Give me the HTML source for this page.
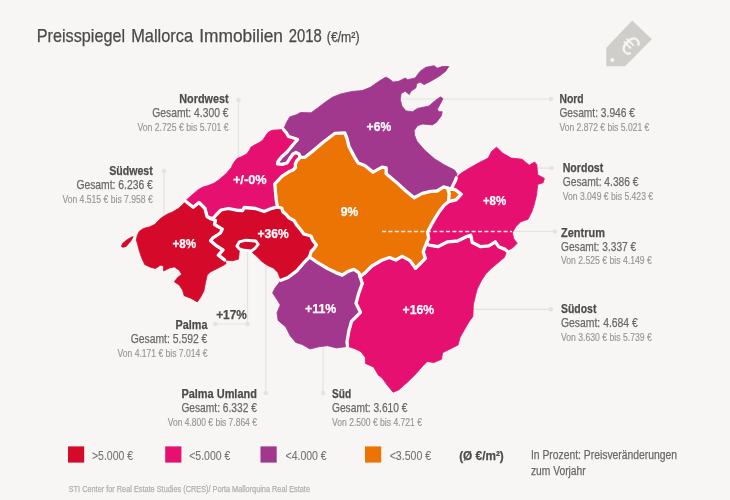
<!DOCTYPE html>
<html lang="de"><head><meta charset="utf-8"><title>Preisspiegel Mallorca Immobilien 2018</title>
<style>html,body{margin:0;padding:0;background:#f7f6f4;}body{width:730px;height:500px;overflow:hidden;}svg{display:block;}</style>
</head><body>
<svg width="730" height="500" viewBox="0 0 730 500">
<rect width="730" height="500" fill="#f7f6f4"/>
<g fill="#d0cecb"><path d="M632.3 20.4 L651.8 39.3 L625.1 66.2 L606.3 66.2 L606.3 47.7 Z"/></g>
<circle cx="612.4" cy="60.1" r="2" fill="#f7f6f4"/>
<text x="0" y="0" transform="translate(630.2,44.8) rotate(45)" text-anchor="middle" font-family="Liberation Sans, Arial, sans-serif" font-size="27" fill="#f7f6f4" dy="9.5">€</text>
<line x1="238.5" y1="100" x2="238.5" y2="160" stroke="#e4e3e1" stroke-width="1.2" />
<circle cx="238.5" cy="100" r="2.3" fill="#e4e3e1"/>
<line x1="164" y1="171" x2="164" y2="218" stroke="#e4e3e1" stroke-width="1.2" />
<circle cx="164" cy="171" r="2.3" fill="#e4e3e1"/>
<line x1="401" y1="99" x2="550.7" y2="99" stroke="#e4e3e1" stroke-width="1.2" />
<circle cx="550.7" cy="99" r="2.3" fill="#e4e3e1"/>
<line x1="538" y1="168.1" x2="551.8" y2="168.1" stroke="#e4e3e1" stroke-width="1.2" />
<circle cx="551.8" cy="168.1" r="2.3" fill="#e4e3e1"/>
<line x1="512" y1="231.5" x2="554.8" y2="231.5" stroke="#e4e3e1" stroke-width="1.2" />
<circle cx="554.8" cy="231.5" r="2.3" fill="#e4e3e1"/>
<line x1="473" y1="309.3" x2="550.7" y2="309.3" stroke="#e4e3e1" stroke-width="1.2" />
<circle cx="550.7" cy="309.3" r="2.3" fill="#e4e3e1"/>
<line x1="323.1" y1="348" x2="323.1" y2="393.1" stroke="#e4e3e1" stroke-width="1.2" />
<circle cx="323.1" cy="393.1" r="2.3" fill="#e4e3e1"/>
<line x1="265.8" y1="262" x2="265.8" y2="393.1" stroke="#e4e3e1" stroke-width="1.2" />
<circle cx="265.8" cy="393.1" r="2.3" fill="#e4e3e1"/>
<line x1="247.5" y1="250" x2="247.5" y2="324" stroke="#e4e3e1" stroke-width="1.2" />
<line x1="215.5" y1="324" x2="247.5" y2="324" stroke="#e4e3e1" stroke-width="1.2" />
<circle cx="215.5" cy="324" r="2.3" fill="#e4e3e1"/>
<circle cx="247.5" cy="324" r="2.3" fill="#e4e3e1"/>
<g stroke-width="0.8" stroke-linejoin="round">
<polygon points="185.3,201.0 193.2,207.3 199.0,202.5 205.0,208.5 207.0,216.5 210.5,218.5 215.5,220.5 214.5,224.5 222.3,229.1 220.4,233.0 212.6,238.2 210.6,240.8 215.8,245.3 223.0,249.9 218.4,255.1 224.5,259.9 226.1,263.6 223.6,265.3 217.1,268.6 210.5,271.9 207.2,275.1 205.5,282.5 203.9,290.8 200.6,297.3 197.3,301.9 190.8,298.2 184.2,295.7 182.5,289.9 179.2,285.0 174.3,281.7 177.6,277.6 181.7,274.3 179.2,270.2 174.3,266.9 169.4,268.1 163.6,271.0 163.6,266.1 160.3,265.3 155.4,268.6 149.7,266.9 144.7,264.5 141.4,257.1 139.0,249.7 137.3,243.1 136.3,240.3 137.3,235.4 139.4,231.2 143.6,228.4 149.2,227.0 154.8,224.4 160.8,218.3 166.7,214.4 172.5,212.0 178.4,208.5 183.3,204.1" fill="#d50a2a" stroke="#d50a2a"/>
<polygon points="210.5,218.5 213.5,218.0 216.5,214.5 221.0,210.0 228.5,208.5 237.7,210.4 242.6,210.5 244.2,207.5 255.5,208.5 264.1,211.5 271.9,208.3 277.3,207.0 281.7,208.0 283.0,211.9 286.2,214.5 288.8,217.8 294.0,220.4 296.6,224.9 300.5,229.5 303.8,234.0 310.9,236.0 312.9,240.5 316.4,245.1 314.2,248.3 311.2,251.5 309.5,257.0 303.4,263.2 296.8,270.9 288.0,277.5 281.0,280.3 277.7,272.3 273.3,267.9 267.7,265.6 262.1,261.7 256.5,256.1 251.6,251.7 254.9,248.4 258.2,244.3 255.8,241.0 245.9,240.2 239.3,241.9 236.9,246.0 239.3,250.9 238.5,259.1 232.7,260.8 224.5,259.9 218.4,255.1 223.0,249.9 215.8,245.3 210.6,240.8 212.6,238.2 220.4,233.0 222.3,229.1 214.5,224.5 215.5,220.5" fill="#d50a2a" stroke="#d50a2a"/>
<polygon points="185.3,201.0 187.5,199.0 192.2,194.8 198.0,189.9 202.3,187.3 207.4,185.8 214.0,183.3 219.7,179.2 226.3,173.4 231.2,167.7 233.7,162.7 237.0,158.6 241.9,156.5 246.9,153.7 249.3,150.4 251.0,147.1 255.1,144.7 260.0,142.2 263.3,139.4 265.8,135.6 268.2,132.3 272.3,130.2 277.3,129.9 283.5,129.5 286.5,133.0 288.5,136.5 295.0,138.5 297.5,139.5 292.0,146.0 287.0,152.0 281.5,157.0 278.0,161.5 277.5,163.8 282.0,164.3 287.0,163.0 289.5,159.0 293.0,154.0 296.0,152.5 299.0,154.0 300.3,157.3 297.0,160.5 295.3,164.0 295.5,167.5 293.0,170.0 288.8,171.8 282.2,176.2 274.8,183.8 275.5,192.3 276.3,200.0 277.3,207.0 271.9,208.3 264.1,211.5 255.5,208.5 244.2,207.5 242.6,210.5 237.7,210.4 228.5,208.5 221.0,210.0 216.5,214.5 213.5,218.0 210.5,218.5 207.0,216.5 205.0,208.5 199.0,202.5 193.2,207.3" fill="#e5106f" stroke="#e5106f"/>
<polygon points="283.5,129.5 286.4,122.7 289.7,116.9 297.1,114.5 300.4,112.5 311.1,112.8 317.7,107.9 324.2,102.9 332.5,97.2 340.7,93.9 352.2,91.4 362.1,90.6 370.3,87.3 378.5,81.6 385.1,77.5 386.3,77.2 390.4,79.7 392.9,82.1 398.6,81.3 405.2,78.0 407.7,79.7 415.1,78.0 420.0,71.4 425.8,67.3 434.0,65.7 437.3,68.2 442.2,66.5 448.8,66.5 445.5,71.4 438.9,76.4 430.7,81.3 424.1,84.6 420.0,82.1 416.7,83.8 415.9,87.9 411.0,91.2 409.3,94.5 405.2,91.2 401.1,93.6 400.3,99.4 401.9,106.0 406.0,110.9 412.6,111.7 417.5,108.4 429.0,106.0 435.6,100.2 440.5,96.9 443.0,98.6 440.5,103.5 437.3,109.2 438.9,111.7 442.2,111.7 441.4,115.8 436.4,122.4 432.3,124.9 422.5,124.0 417.5,125.7 414.2,130.6 414.5,135.0 417.0,141.3 424.5,150.0 434.5,158.8 444.5,165.0 454.5,170.0 457.0,173.8 456.3,177.9 455.2,181.1 452.7,186.0 451.0,189.0 447.5,188.0 443.7,186.9 437.1,191.0 430.6,191.3 422.3,193.4 414.1,197.8 405.9,191.0 396.0,181.9 386.2,173.7 386.2,167.9 382.1,167.1 373.0,172.1 364.8,165.5 358.1,163.0 354.6,157.1 349.0,146.6 346.9,138.2 344.8,132.8 335.0,133.3 323.8,141.7 314.0,150.1 305.0,157.3 300.3,157.3 299.0,154.0 296.0,152.5 293.0,154.0 289.5,159.0 287.0,163.0 282.0,164.3 277.5,163.8 278.0,161.5 281.5,157.0 287.0,152.0 292.0,146.0 297.5,139.5 295.0,138.5 288.5,136.5 286.5,133.0" fill="#a2378e" stroke="#a2378e"/>
<polygon points="300.3,157.3 305.0,157.3 314.0,150.1 323.8,141.7 335.0,133.3 344.8,132.8 346.9,138.2 349.0,146.6 354.6,157.1 358.1,163.0 364.8,165.5 373.0,172.1 382.1,167.1 386.2,167.9 386.2,173.7 396.0,181.9 405.9,191.0 414.1,197.8 422.3,193.4 430.6,191.3 437.1,191.0 443.7,186.9 447.5,188.0 451.0,189.0 455.2,189.6 461.3,194.2 456.0,199.8 448.6,201.6 443.7,205.8 438.8,212.3 434.7,218.9 431.0,225.4 427.6,232.0 428.7,238.6 426.5,243.0 423.2,251.8 425.4,258.4 418.8,265.0 415.5,268.3 410.0,260.6 402.0,256.3 395.8,260.0 389.5,257.5 381.8,260.3 371.9,266.0 365.3,272.6 360.1,276.7 358.8,272.6 353.8,269.3 347.3,271.8 342.3,275.1 335.8,272.6 327.5,268.5 317.7,262.7 309.5,257.0 311.2,251.5 314.2,248.3 316.4,245.1 312.9,240.5 310.9,236.0 303.8,234.0 300.5,229.5 296.6,224.9 294.0,220.4 288.8,217.8 286.2,214.5 283.0,211.9 281.7,208.0 277.3,207.0 276.3,200.0 275.5,192.3 274.8,183.8 282.2,176.2 288.8,171.8 293.0,170.0 295.5,167.5 295.3,164.0 297.0,160.5" fill="#ec7405" stroke="#ec7405"/>
<polygon points="456.3,177.9 460.7,173.5 469.5,168.0 479.4,162.5 488.2,158.1 491.5,151.5 496.5,147.2 502.8,153.2 511.2,158.0 522.0,159.2 529.2,165.2 534.5,162.0 536.8,164.5 537.7,174.8 544.4,178.4 543.0,182.8 537.7,184.4 536.5,195.3 534.1,204.9 531.7,212.1 528.0,219.3 520.8,221.7 516.0,226.5 512.4,232.5 513.6,238.5 517.2,243.3 512.4,248.1 506.7,250.7 505.2,249.4 498.6,246.7 495.3,241.8 488.8,245.9 480.6,246.7 477.3,245.1 472.3,242.6 470.7,235.2 465.8,236.9 457.5,241.0 447.7,241.8 437.8,246.7 428.8,245.1 426.5,243.0 428.7,238.6 427.6,232.0 431.0,225.4 434.7,218.9 438.8,212.3 443.7,205.8 448.6,201.6 456.0,199.8 461.3,194.2 455.2,189.6 451.0,189.0 452.7,186.0 455.2,181.1" fill="#e5106f" stroke="#e5106f"/>
<polygon points="426.5,243.0 428.8,245.1 437.8,246.7 447.7,241.8 457.5,241.0 465.8,236.9 470.7,235.2 472.3,242.6 477.3,245.1 480.6,246.7 488.8,245.9 495.3,241.8 498.6,246.7 505.2,249.4 506.7,250.7 504.5,257.3 498.0,262.8 491.4,268.3 485.9,273.8 481.5,280.4 477.1,289.2 474.9,298.0 473.3,305.0 472.9,316.4 468.9,321.9 464.5,329.6 460.1,337.3 458.0,345.0 449.2,349.4 442.6,352.7 441.5,359.3 433.8,362.6 427.2,361.5 422.8,365.9 416.2,373.6 407.4,382.3 398.6,390.0 393.1,392.2 387.6,385.6 382.1,378.0 378.4,375.2 373.6,367.0 365.5,363.5 365.3,357.4 361.0,351.7 355.0,348.8 347.5,346.3 347.0,342.0 348.8,331.3 351.5,321.4 360.5,312.3 356.0,303.3 358.7,293.4 362.3,283.5 360.1,276.7 365.3,272.6 371.9,266.0 381.8,260.3 389.5,257.5 395.8,260.0 402.0,256.3 410.0,260.6 415.5,268.3 418.8,265.0 425.4,258.4 423.2,251.8" fill="#e5106f" stroke="#e5106f"/>
<polygon points="309.5,257.0 317.7,262.7 327.5,268.5 335.8,272.6 342.3,275.1 347.3,271.8 353.8,269.3 358.8,272.6 360.1,276.7 362.3,283.5 358.7,293.4 356.0,303.3 360.5,312.3 351.5,321.4 348.8,331.3 347.0,342.0 347.5,346.3 345.0,346.8 336.4,347.9 327.6,345.7 318.8,346.8 310.0,349.0 302.3,344.6 295.7,342.4 290.2,335.8 285.8,327.0 278.1,320.4 277.0,312.7 280.3,305.0 277.0,299.5 272.6,292.9 275.0,288.0 281.0,280.3 288.0,277.5 296.8,270.9 303.4,263.2" fill="#a2378e" stroke="#a2378e"/>
</g>
<g fill="none" stroke="#ffffff" stroke-width="3.3" stroke-linejoin="round" stroke-linecap="round">
<polyline points="283.5,129.5 286.5,133.0 288.5,136.5 295.0,138.5 297.5,139.5 292.0,146.0 287.0,152.0 281.5,157.0 278.0,161.5 277.5,163.8 282.0,164.3 287.0,163.0 289.5,159.0 293.0,154.0 296.0,152.5 299.0,154.0 300.3,157.3"/>
<polyline points="300.3,157.3 297.0,160.5 295.3,164.0 295.5,167.5 293.0,170.0 288.8,171.8 282.2,176.2 274.8,183.8 275.5,192.3 276.3,200.0 277.3,207.0"/>
<polyline points="277.3,207.0 271.9,208.3 264.1,211.5 255.5,208.5 244.2,207.5 242.6,210.5 237.7,210.4 228.5,208.5 221.0,210.0 216.5,214.5 213.5,218.0 210.5,218.5"/>
<polyline points="210.5,218.5 207.0,216.5 205.0,208.5 199.0,202.5 193.2,207.3 185.3,201.0"/>
<polyline points="456.3,177.9 455.2,181.1 452.7,186.0 451.0,189.0"/>
<polyline points="451.0,189.0 447.5,188.0 443.7,186.9 437.1,191.0 430.6,191.3 422.3,193.4 414.1,197.8 405.9,191.0 396.0,181.9 386.2,173.7 386.2,167.9 382.1,167.1 373.0,172.1 364.8,165.5 358.1,163.0 354.6,157.1 349.0,146.6 346.9,138.2 344.8,132.8 335.0,133.3 323.8,141.7 314.0,150.1 305.0,157.3 300.3,157.3"/>
<polyline points="451.0,189.0 455.2,189.6 461.3,194.2 456.0,199.8 448.6,201.6 443.7,205.8 438.8,212.3 434.7,218.9 431.0,225.4 427.6,232.0 428.7,238.6 426.5,243.0"/>
<polyline points="426.5,243.0 423.2,251.8 425.4,258.4 418.8,265.0 415.5,268.3 410.0,260.6 402.0,256.3 395.8,260.0 389.5,257.5 381.8,260.3 371.9,266.0 365.3,272.6 360.1,276.7"/>
<polyline points="360.1,276.7 358.8,272.6 353.8,269.3 347.3,271.8 342.3,275.1 335.8,272.6 327.5,268.5 317.7,262.7 309.5,257.0"/>
<polyline points="309.5,257.0 311.2,251.5 314.2,248.3 316.4,245.1 312.9,240.5 310.9,236.0 303.8,234.0 300.5,229.5 296.6,224.9 294.0,220.4 288.8,217.8 286.2,214.5 283.0,211.9 281.7,208.0 277.3,207.0"/>
<polyline points="506.7,250.7 505.2,249.4 498.6,246.7 495.3,241.8 488.8,245.9 480.6,246.7 477.3,245.1 472.3,242.6 470.7,235.2 465.8,236.9 457.5,241.0 447.7,241.8 437.8,246.7 428.8,245.1 426.5,243.0"/>
<polyline points="347.5,346.3 347.0,342.0 348.8,331.3 351.5,321.4 360.5,312.3 356.0,303.3 358.7,293.4 362.3,283.5 360.1,276.7"/>
<polyline points="281.0,280.3 288.0,277.5 296.8,270.9 303.4,263.2 309.5,257.0"/>
<polyline points="224.5,259.9 218.4,255.1 223.0,249.9 215.8,245.3 210.6,240.8 212.6,238.2 220.4,233.0 222.3,229.1 214.5,224.5 215.5,220.5 210.5,218.5"/>
<polyline points="447.5,188.0 449.2,193.5 448.6,201.6"/>
</g>
<polygon points="236.9,246.0 239.3,241.9 245.9,240.2 255.8,241.0 258.2,244.3 254.9,248.4 251.6,250.9 244.2,250.3 239.3,248.8" fill="#d50a2a" stroke="#ffffff" stroke-width="2.9" stroke-linejoin="round"/>
<polygon points="133.8,236.3 131.2,241.0 126.3,246.8 122.8,247.7 120.9,246.3 122.6,243.1 127.5,238.9 132.0,236.4" fill="#d50a2a"/>
<line x1="382" y1="231.5" x2="512" y2="231.5" stroke="#ffffff" stroke-opacity="0.88" stroke-width="1.5" stroke-dasharray="4 2.4"/>
<g font-family="'Liberation Sans', Arial, sans-serif">
<text x="36.8" y="42.0" font-size="18.2" fill="#4a4a4a" stroke="#4a4a4a" stroke-width="0.25" textLength="88.2" lengthAdjust="spacingAndGlyphs">Preisspiegel</text>
<text x="131.2" y="42.0" font-size="18.2" fill="#4a4a4a" stroke="#4a4a4a" stroke-width="0.25" textLength="61.8" lengthAdjust="spacingAndGlyphs">Mallorca</text>
<text x="199.3" y="42.0" font-size="18.2" fill="#4a4a4a" stroke="#4a4a4a" stroke-width="0.25" textLength="83.7" lengthAdjust="spacingAndGlyphs">Immobilien</text>
<text x="288.8" y="42.0" font-size="18.2" fill="#4a4a4a" stroke="#4a4a4a" stroke-width="0.25" textLength="33.0" lengthAdjust="spacingAndGlyphs">2018</text>
<text x="326.8" y="42.0" font-size="14" fill="#4a4a4a" stroke="#4a4a4a" stroke-width="0.25" textLength="32.7" lengthAdjust="spacingAndGlyphs">(€/m²)</text>
<text x="179.3" y="102.6" font-size="13.5" fill="#4d4d4d" stroke="#4d4d4d" stroke-width="0.25" font-weight="bold" textLength="49.3" lengthAdjust="spacingAndGlyphs">Nordwest</text>
<text x="152.2" y="116.5" font-size="13" fill="#6a6a6a" stroke="#6a6a6a" stroke-width="0.25" textLength="76.4" lengthAdjust="spacingAndGlyphs">Gesamt: 4.300 €</text>
<text x="137.4" y="130.5" font-size="10.5" fill="#969696" stroke="#969696" stroke-width="0.15" textLength="91.2" lengthAdjust="spacingAndGlyphs">Von 2.725 € bis 5.701 €</text>
<text x="109.2" y="174.7" font-size="13.5" fill="#4d4d4d" stroke="#4d4d4d" stroke-width="0.25" font-weight="bold" textLength="43.6" lengthAdjust="spacingAndGlyphs">Südwest</text>
<text x="76.4" y="188.6" font-size="13" fill="#6a6a6a" stroke="#6a6a6a" stroke-width="0.25" textLength="76.4" lengthAdjust="spacingAndGlyphs">Gesamt: 6.236 €</text>
<text x="62.4" y="202.6" font-size="10.5" fill="#969696" stroke="#969696" stroke-width="0.15" textLength="90.4" lengthAdjust="spacingAndGlyphs">Von 4.515 € bis 7.958 €</text>
<text x="175.6" y="328.9" font-size="13.5" fill="#4d4d4d" stroke="#4d4d4d" stroke-width="0.25" font-weight="bold" textLength="31.8" lengthAdjust="spacingAndGlyphs">Palma</text>
<text x="130.7" y="342.8" font-size="13" fill="#6a6a6a" stroke="#6a6a6a" stroke-width="0.25" textLength="76.7" lengthAdjust="spacingAndGlyphs">Gesamt: 5.592 €</text>
<text x="117.5" y="356.8" font-size="10.5" fill="#969696" stroke="#969696" stroke-width="0.15" textLength="89.9" lengthAdjust="spacingAndGlyphs">Von 4.171 € bis 7.014 €</text>
<text x="181.4" y="397.8" font-size="13.5" fill="#4d4d4d" stroke="#4d4d4d" stroke-width="0.25" font-weight="bold" textLength="75.5" lengthAdjust="spacingAndGlyphs">Palma Umland</text>
<text x="181.4" y="411.7" font-size="13" fill="#6a6a6a" stroke="#6a6a6a" stroke-width="0.25" textLength="75.5" lengthAdjust="spacingAndGlyphs">Gesamt: 6.332 €</text>
<text x="167.8" y="425.7" font-size="10.5" fill="#969696" stroke="#969696" stroke-width="0.15" textLength="89.1" lengthAdjust="spacingAndGlyphs">Von 4.800 € bis 7.864 €</text>
<text x="559.4" y="102.8" font-size="13.5" fill="#4d4d4d" stroke="#4d4d4d" stroke-width="0.25" font-weight="bold" textLength="24.2" lengthAdjust="spacingAndGlyphs">Nord</text>
<text x="559.4" y="116.7" font-size="13" fill="#6a6a6a" stroke="#6a6a6a" stroke-width="0.25" textLength="75.6" lengthAdjust="spacingAndGlyphs">Gesamt: 3.946 €</text>
<text x="559.4" y="130.7" font-size="10.5" fill="#969696" stroke="#969696" stroke-width="0.15" textLength="89.9" lengthAdjust="spacingAndGlyphs">Von 2.872 € bis 5.021 €</text>
<text x="562.7" y="172.4" font-size="13.5" fill="#4d4d4d" stroke="#4d4d4d" stroke-width="0.25" font-weight="bold" textLength="40.6" lengthAdjust="spacingAndGlyphs">Nordost</text>
<text x="562.7" y="186.3" font-size="13" fill="#6a6a6a" stroke="#6a6a6a" stroke-width="0.25" textLength="75.9" lengthAdjust="spacingAndGlyphs">Gesamt: 4.386 €</text>
<text x="562.7" y="200.3" font-size="10.5" fill="#969696" stroke="#969696" stroke-width="0.15" textLength="90.4" lengthAdjust="spacingAndGlyphs">Von 3.049 € bis 5.423 €</text>
<text x="561.0" y="236.8" font-size="13.5" fill="#4d4d4d" stroke="#4d4d4d" stroke-width="0.25" font-weight="bold" textLength="43.9" lengthAdjust="spacingAndGlyphs">Zentrum</text>
<text x="561.0" y="250.7" font-size="13" fill="#6a6a6a" stroke="#6a6a6a" stroke-width="0.25" textLength="75.2" lengthAdjust="spacingAndGlyphs">Gesamt: 3.337 €</text>
<text x="561.0" y="264.1" font-size="10.5" fill="#969696" stroke="#969696" stroke-width="0.15" textLength="90.8" lengthAdjust="spacingAndGlyphs">Von 2.525 € bis 4.149 €</text>
<text x="561.0" y="313.0" font-size="13.5" fill="#4d4d4d" stroke="#4d4d4d" stroke-width="0.25" font-weight="bold" textLength="35.4" lengthAdjust="spacingAndGlyphs">Südost</text>
<text x="561.0" y="326.9" font-size="13" fill="#6a6a6a" stroke="#6a6a6a" stroke-width="0.25" textLength="76.8" lengthAdjust="spacingAndGlyphs">Gesamt: 4.684 €</text>
<text x="561.0" y="340.9" font-size="10.5" fill="#969696" stroke="#969696" stroke-width="0.15" textLength="90.8" lengthAdjust="spacingAndGlyphs">Von 3.630 € bis 5.739 €</text>
<text x="332.0" y="397.8" font-size="13.5" fill="#4d4d4d" stroke="#4d4d4d" stroke-width="0.25" font-weight="bold" textLength="19.2" lengthAdjust="spacingAndGlyphs">Süd</text>
<text x="332.0" y="411.7" font-size="13" fill="#6a6a6a" stroke="#6a6a6a" stroke-width="0.25" textLength="75.5" lengthAdjust="spacingAndGlyphs">Gesamt: 3.610 €</text>
<text x="332.0" y="425.7" font-size="10.5" fill="#969696" stroke="#969696" stroke-width="0.15" textLength="90.0" lengthAdjust="spacingAndGlyphs">Von 2.500 € bis 4.721 €</text>
<text x="232.9" y="184.1" font-size="13.5" fill="#ffffff" stroke="#ffffff" stroke-width="0.25" font-weight="bold" textLength="33.7" lengthAdjust="spacingAndGlyphs">+/-0%</text>
<text x="172.5" y="248.0" font-size="13.5" fill="#ffffff" stroke="#ffffff" stroke-width="0.25" font-weight="bold" textLength="23.8" lengthAdjust="spacingAndGlyphs">+8%</text>
<text x="257.5" y="238.0" font-size="13.5" fill="#ffffff" stroke="#ffffff" stroke-width="0.25" font-weight="bold" textLength="31.3" lengthAdjust="spacingAndGlyphs">+36%</text>
<text x="366.6" y="130.6" font-size="13.5" fill="#ffffff" stroke="#ffffff" stroke-width="0.25" font-weight="bold" textLength="24.6" lengthAdjust="spacingAndGlyphs">+6%</text>
<text x="340.8" y="216.3" font-size="13.5" fill="#ffffff" stroke="#ffffff" stroke-width="0.25" font-weight="bold" textLength="17.5" lengthAdjust="spacingAndGlyphs">9%</text>
<text x="482.9" y="204.7" font-size="13.5" fill="#ffffff" stroke="#ffffff" stroke-width="0.25" font-weight="bold" textLength="23.4" lengthAdjust="spacingAndGlyphs">+8%</text>
<text x="305.0" y="312.5" font-size="13.5" fill="#ffffff" stroke="#ffffff" stroke-width="0.25" font-weight="bold" textLength="31.3" lengthAdjust="spacingAndGlyphs">+11%</text>
<text x="402.5" y="314.2" font-size="13.5" fill="#ffffff" stroke="#ffffff" stroke-width="0.25" font-weight="bold" textLength="31.7" lengthAdjust="spacingAndGlyphs">+16%</text>
<text x="216.2" y="318.5" font-size="13.5" fill="#4d4d4d" stroke="#4d4d4d" stroke-width="0.25" font-weight="bold" textLength="30.6" lengthAdjust="spacingAndGlyphs">+17%</text>
<rect x="68" y="446.4" width="16.2" height="16.2" fill="#d50a2a"/>
<rect x="165.2" y="446.4" width="16.2" height="16.2" fill="#e5106f"/>
<rect x="260.5" y="446.4" width="16.2" height="16.2" fill="#a2378e"/>
<rect x="365" y="446.4" width="16.2" height="16.2" fill="#ec7405"/>
<text x="92.0" y="459.5" font-size="13.2" fill="#747474" stroke="#747474" stroke-width="0.1" textLength="41.1" lengthAdjust="spacingAndGlyphs">&gt;5.000 €</text>
<text x="189.2" y="459.5" font-size="13.2" fill="#747474" stroke="#747474" stroke-width="0.1" textLength="41.1" lengthAdjust="spacingAndGlyphs">&lt;5.000 €</text>
<text x="285.5" y="459.5" font-size="13.2" fill="#747474" stroke="#747474" stroke-width="0.1" textLength="41.2" lengthAdjust="spacingAndGlyphs">&lt;4.000 €</text>
<text x="389.7" y="459.5" font-size="13.2" fill="#747474" stroke="#747474" stroke-width="0.1" textLength="41.5" lengthAdjust="spacingAndGlyphs">&lt;3.500 €</text>
<text x="459.2" y="459.5" font-size="13" fill="#4d4d4d" stroke="#4d4d4d" stroke-width="0.25" font-weight="bold" textLength="44.6" lengthAdjust="spacingAndGlyphs">(Ø €/m²)</text>
<text x="530.9" y="458.8" font-size="13" fill="#6a6a6a" stroke="#6a6a6a" stroke-width="0.25" textLength="146.2" lengthAdjust="spacingAndGlyphs">In Prozent: Preisveränderungen</text>
<text x="530.9" y="474.6" font-size="13" fill="#6a6a6a" stroke="#6a6a6a" stroke-width="0.25" textLength="54.8" lengthAdjust="spacingAndGlyphs">zum Vorjahr</text>
<text x="68.7" y="491.5" font-size="9" fill="#b0b0b0" stroke="#b0b0b0" stroke-width="0.25" textLength="241.3" lengthAdjust="spacingAndGlyphs">STI Center for Real Estate Studies (CRES)/ Porta Mallorquina Real Estate</text>
</g>
</svg>
</body></html>
